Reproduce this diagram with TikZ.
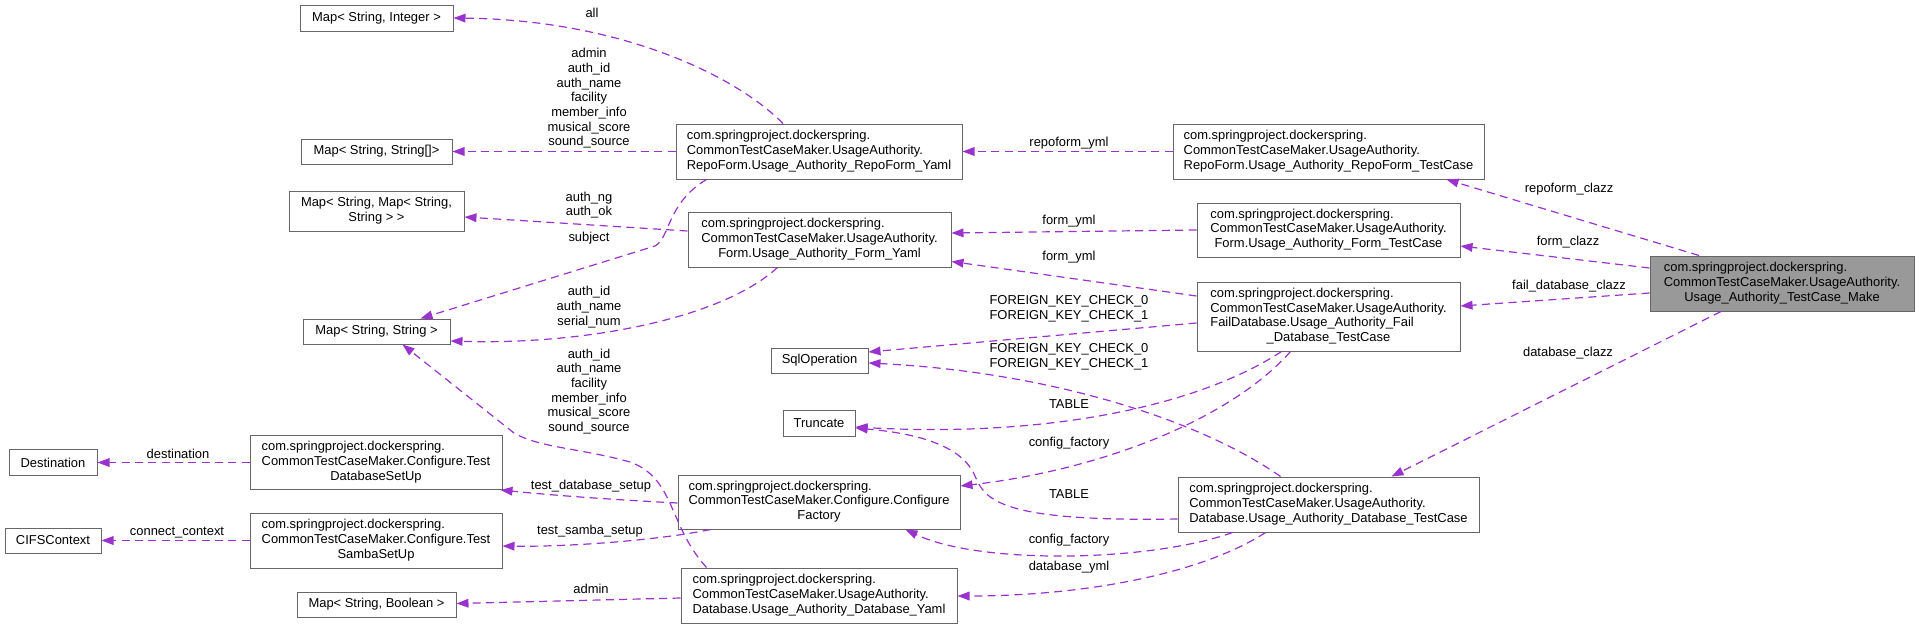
\documentclass[tikz,border=0pt]{standalone}
\usepackage{fontspec}
\setmainfont{Liberation Sans}
\usetikzlibrary{arrows.meta,calc}
\definecolor{edgec}{HTML}{9A32CD}
\definecolor{boxc}{HTML}{666666}
\definecolor{mainfill}{HTML}{999999}
\newcommand{\dlab}[2]{\begin{tabular}{@{}l@{}}#1\\\multicolumn{1}{@{}c@{}}{#2}\end{tabular}}
\tikzset{
  txt/.style={font=\fontsize{9.7}{11}\selectfont},
  cls/.style={txt, draw=boxc, line width=0.75pt, fill=white, inner sep=0pt},
  box/.style 2 args={cls, minimum width=#1*0.75pt, minimum height=#2*0.75pt},
  mainbox/.style={fill=mainfill},
  edge/.style={draw=edgec, line width=0.9pt, dash pattern=on 6pt off 4pt,
    -{Triangle[length=9pt,width=6.5pt]}},
  elab/.style={txt, align=center, inner sep=0pt, text=black}
}
\begin{document}
\begin{tikzpicture}[x=0.75pt,y=-0.75pt]
\useasboundingbox (0,0) rectangle (1919,628);
% nodes
\node[box={153}{26}] (mapSI) at (376.5,18) {Map< String, Integer >};
\node[box={151}{25}] (mapSSa) at (376.5,151.5) {Map< String, String[]>};
\node[box={175}{40}] (mapSMap) at (376.5,211) {\dlab{Map< String, Map< String,}{String > >}};
\node[box={147}{25}] (mapSS) at (376.5,331.5) {Map< String, String >};
\node[box={88}{26}] (dest) at (53,462.5) {Destination};
\node[box={96}{25}] (cifs) at (53,540.5) {CIFSContext};
\node[box={159}{25}] (mapSB) at (376.5,604.5) {Map< String, Boolean >};
\node[box={252}{54}] (tdbsu) at (376,462.5) {\dlab{com.springproject.dockerspring.\\CommonTestCaseMaker.Configure.Test}{DatabaseSetUp}};
\node[box={252}{55}] (tssu) at (376,540.5) {\dlab{com.springproject.dockerspring.\\CommonTestCaseMaker.Configure.Test}{SambaSetUp}};
\node[box={286}{55}] (rfyaml) at (819,151.5) {\dlab{com.springproject.dockerspring.\\CommonTestCaseMaker.UsageAuthority.}{RepoForm.Usage\_Authority\_RepoForm\_Yaml}};
\node[box={263}{55}] (fyaml) at (819.5,239.5) {\dlab{com.springproject.dockerspring.\\CommonTestCaseMaker.UsageAuthority.}{Form.Usage\_Authority\_Form\_Yaml}};
\node[box={97}{25}] (sqlop) at (819.5,360.5) {SqlOperation};
\node[box={72}{26}] (trunc) at (819,423) {Truncate};
\node[box={282}{54}] (cfact) at (819,502) {\dlab{com.springproject.dockerspring.\\CommonTestCaseMaker.Configure.Configure}{Factory}};
\node[box={276}{55}] (dbyaml) at (819,595.5) {\dlab{com.springproject.dockerspring.\\CommonTestCaseMaker.UsageAuthority.}{Database.Usage\_Authority\_Database\_Yaml}};
\node[box={311}{55}] (rftc) at (1328.5,151.5) {\dlab{com.springproject.dockerspring.\\CommonTestCaseMaker.UsageAuthority.}{RepoForm.Usage\_Authority\_RepoForm\_TestCase}};
\node[box={263}{54}] (ftc) at (1328.5,230) {\dlab{com.springproject.dockerspring.\\CommonTestCaseMaker.UsageAuthority.}{Form.Usage\_Authority\_Form\_TestCase}};
\node[box={263}{69}] (fdbtc) at (1328.5,316.5) {\dlab{com.springproject.dockerspring.\\CommonTestCaseMaker.UsageAuthority.\\FailDatabase.Usage\_Authority\_Fail}{\_Database\_TestCase}};
\node[box={301}{55}] (dbtc) at (1328.5,504.5) {\dlab{com.springproject.dockerspring.\\CommonTestCaseMaker.UsageAuthority.}{Database.Usage\_Authority\_Database\_TestCase}};
\node[box={264}{55}, mainbox] (main) at (1782,283.5) {\dlab{com.springproject.dockerspring.\\CommonTestCaseMaker.UsageAuthority.}{Usage\_Authority\_TestCase\_Make}};
% edges
\draw[edge] ($(rfyaml.north)+(-36,0)$) .. controls (735,75) and (620,20) .. (mapSI.east);
\node[elab] (l1) at (592,13) {all};
\draw[edge] (rfyaml.west) -- (mapSSa.east);
\node[elab] (l2) at (589,98.5) {admin\\auth\_id\\auth\_name\\facility\\member\_info\\musical\_score\\sound\_source};
\draw[edge] ($(fyaml.west)+(0,-8.5)$) -- ($(mapSMap.east)+(0,6)$);
\node[elab] (l3) at (589,205) {auth\_ng\\auth\_ok};
\draw[edge] ($(rfyaml.south west)+(31,0)$) .. controls (667,203) and (670,238) .. (655,246) -- ($(mapSS.north east)+(-30,0)$);
\node[elab] (l4) at (589,238) {subject};
\draw[edge] ($(fyaml.south)+(-42,0)$) .. controls (720,320) and (580,345) .. ($(mapSS.east)+(0,9.5)$);
\node[elab] (l5) at (589,307) {auth\_id\\auth\_name\\serial\_num};
\draw[edge] ($(dbyaml.north west)+(26,0)$) .. controls (668,525) and (675,478) .. (630,462) .. controls (580,448) and (540,448) .. (514,433) -- ($(mapSS.south)+(26,0)$);
\node[elab] (l6) at (589,391.5) {auth\_id\\auth\_name\\facility\\member\_info\\musical\_score\\sound\_source};
\draw[edge] ($(dbyaml.west)+(0,2.5)$) -- ($(mapSB.east)+(0,-1)$);
\node[elab] (l7) at (591,589) {admin};
\draw[edge] (tdbsu.west) -- (dest.east);
\node[elab] (l8) at (178,454) {destination};
\draw[edge] (tssu.west) -- (cifs.east);
\node[elab] (l9) at (177,533) {connect\_context};
\draw[edge] ($(cfact.west)+(0,1)$) .. controls (620,500) and (560,496) .. ($(tdbsu.south east)+(-2,0)$);
\node[elab] (l10) at (591,486) {test\_database\_setup};
\draw[edge] ($(cfact.south west)+(33,0)$) .. controls (660,540) and (570,547) .. ($(tssu.east)+(0,5.5)$);
\node[elab] (l11) at (590,531) {test\_samba\_setup};
\draw[edge] (rftc.west) -- (rfyaml.east);
\node[elab] (l12) at (1069,143) {repoform\_yml};
\draw[edge] (ftc.west) -- ($(fyaml.east)+(0,-6.5)$);
\node[elab] (l13) at (1069,221) {form\_yml};
\draw[edge] ($(fdbtc.west)+(0,-20.5)$) -- ($(fyaml.south east)+(0,-6)$);
\node[elab] (l14) at (1069,257) {form\_yml};
\draw[edge] ($(fdbtc.west)+(0,6.5)$) -- ($(sqlop.east)+(0,-8.5)$);
\node[elab] (l15) at (1069,308.5) {FOREIGN\_KEY\_CHECK\_0\\FOREIGN\_KEY\_CHECK\_1};
\draw[edge] ($(dbtc.north)+(-48,0)$) .. controls (1200,420) and (1050,372) .. ($(sqlop.east)+(0,2.5)$);
\node[elab] (l16) at (1069,356.5) {FOREIGN\_KEY\_CHECK\_0\\FOREIGN\_KEY\_CHECK\_1};
\draw[edge] ($(fdbtc.south)+(-47,0)$) .. controls (1200,405) and (1050,438) .. ($(trunc.east)+(0,4)$);
\node[elab] (l17) at (1069,404) {TABLE};
\draw[edge] ($(fdbtc.south)+(-38,0)$) .. controls (1230,420) and (1100,470) .. ($(cfact.east)+(0,-16)$);
\node[elab] (l18) at (1069,443) {config\_factory};
\draw[edge] ($(dbtc.west)+(0,14.5)$) .. controls (1000,522) and (985,500) .. (975,476) .. controls (960,440) and (900,432) .. ($(trunc.east)+(0,5)$);
\node[elab] (l19) at (1069,494) {TABLE};
\draw[edge] ($(dbtc.south)+(-96,0)$) .. controls (1150,562) and (980,565) .. ($(cfact.south east)+(-55,0)$);
\node[elab] (l20) at (1069,540) {config\_factory};
\draw[edge] ($(dbtc.south)+(-63,0)$) .. controls (1200,575) and (1080,596) .. ($(dbyaml.east)+(0,0.5)$);
\node[elab] (l21) at (1069,567) {database\_yml};
\draw[edge] ($(main.north)+(-83,0)$) -- ($(rftc.south east)+(-38,0)$);
\node[elab] (l22) at (1569,189) {repoform\_clazz};
\draw[edge] ($(main.west)+(0,-15.5)$) -- ($(ftc.east)+(0,16)$);
\node[elab] (l23) at (1568,242) {form\_clazz};
\draw[edge] ($(main.west)+(0,9.5)$) -- ($(fdbtc.east)+(0,-10.5)$);
\node[elab] (l24) at (1569,286) {fail\_database\_clazz};
\draw[edge] ($(main.south)+(-61,0)$) -- ($(dbtc.north east)+(-88,0)$);
\node[elab] (l25) at (1568,353) {database\_clazz};
\end{tikzpicture}
\end{document}
